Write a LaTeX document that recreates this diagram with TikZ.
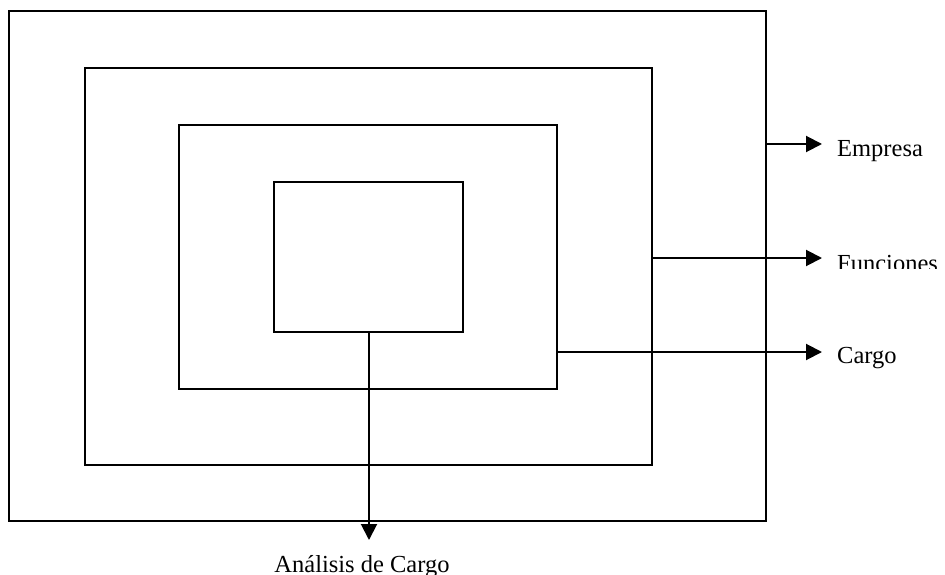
\documentclass[tikz,border=0pt]{standalone}
\usepackage{fontspec}
\setmainfont{Liberation Serif}
\usetikzlibrary{arrows.meta}
\begin{document}
\begin{tikzpicture}[x=1pt,y=-1pt,
  frame/.style={draw=black,line width=2pt,inner sep=0pt,outer sep=0pt},
  link/.style={line width=2pt,-{Triangle[length=16pt,width=16pt]}},
  lbl/.style={font=\fontsize{24.5}{29}\selectfont,inner sep=0pt,anchor=base west}]
\useasboundingbox (0,0) rectangle (945,575);
\fill[white] (0,0) rectangle (945,575);

% nested frames, outermost first
\node[frame,minimum width=757pt,minimum height=510pt] (empresa)   at (387.5,266) {};
\node[frame,minimum width=567pt,minimum height=397pt] (funciones) at (368.5,266.5) {};
\node[frame,minimum width=378pt,minimum height=264pt] (cargo)     at (368,257) {};
\node[frame,minimum width=189pt,minimum height=150pt] (analisis)  at (368.5,257) {};

% arrow tips
\coordinate (tEmp) at (822,144);
\coordinate (tFun) at (822,258);
\coordinate (tCar) at (822,352);
\coordinate (tAna) at (369,540);

% labels
\node[lbl] (lEmp) at (837,157) {Empresa};
\begin{scope}
  \clip (830,240) rectangle (945,268);
  \node[lbl] (lFun) at (837,271) {Funciones};
\end{scope}
\node[lbl] (lCar) at (837,363) {Cargo};
\node[lbl,anchor=base] (lAna) at (362,572) {Análisis de Cargo};

% connectors
\draw[link] (empresa.east |- tEmp) -- (tEmp);
\draw[link] (funciones.east |- tFun) -- (tFun);
\draw[link] (cargo.east |- tCar) -- (tCar);
\draw[link] (analisis.south -| tAna) -- (tAna);
\end{tikzpicture}
\end{document}
